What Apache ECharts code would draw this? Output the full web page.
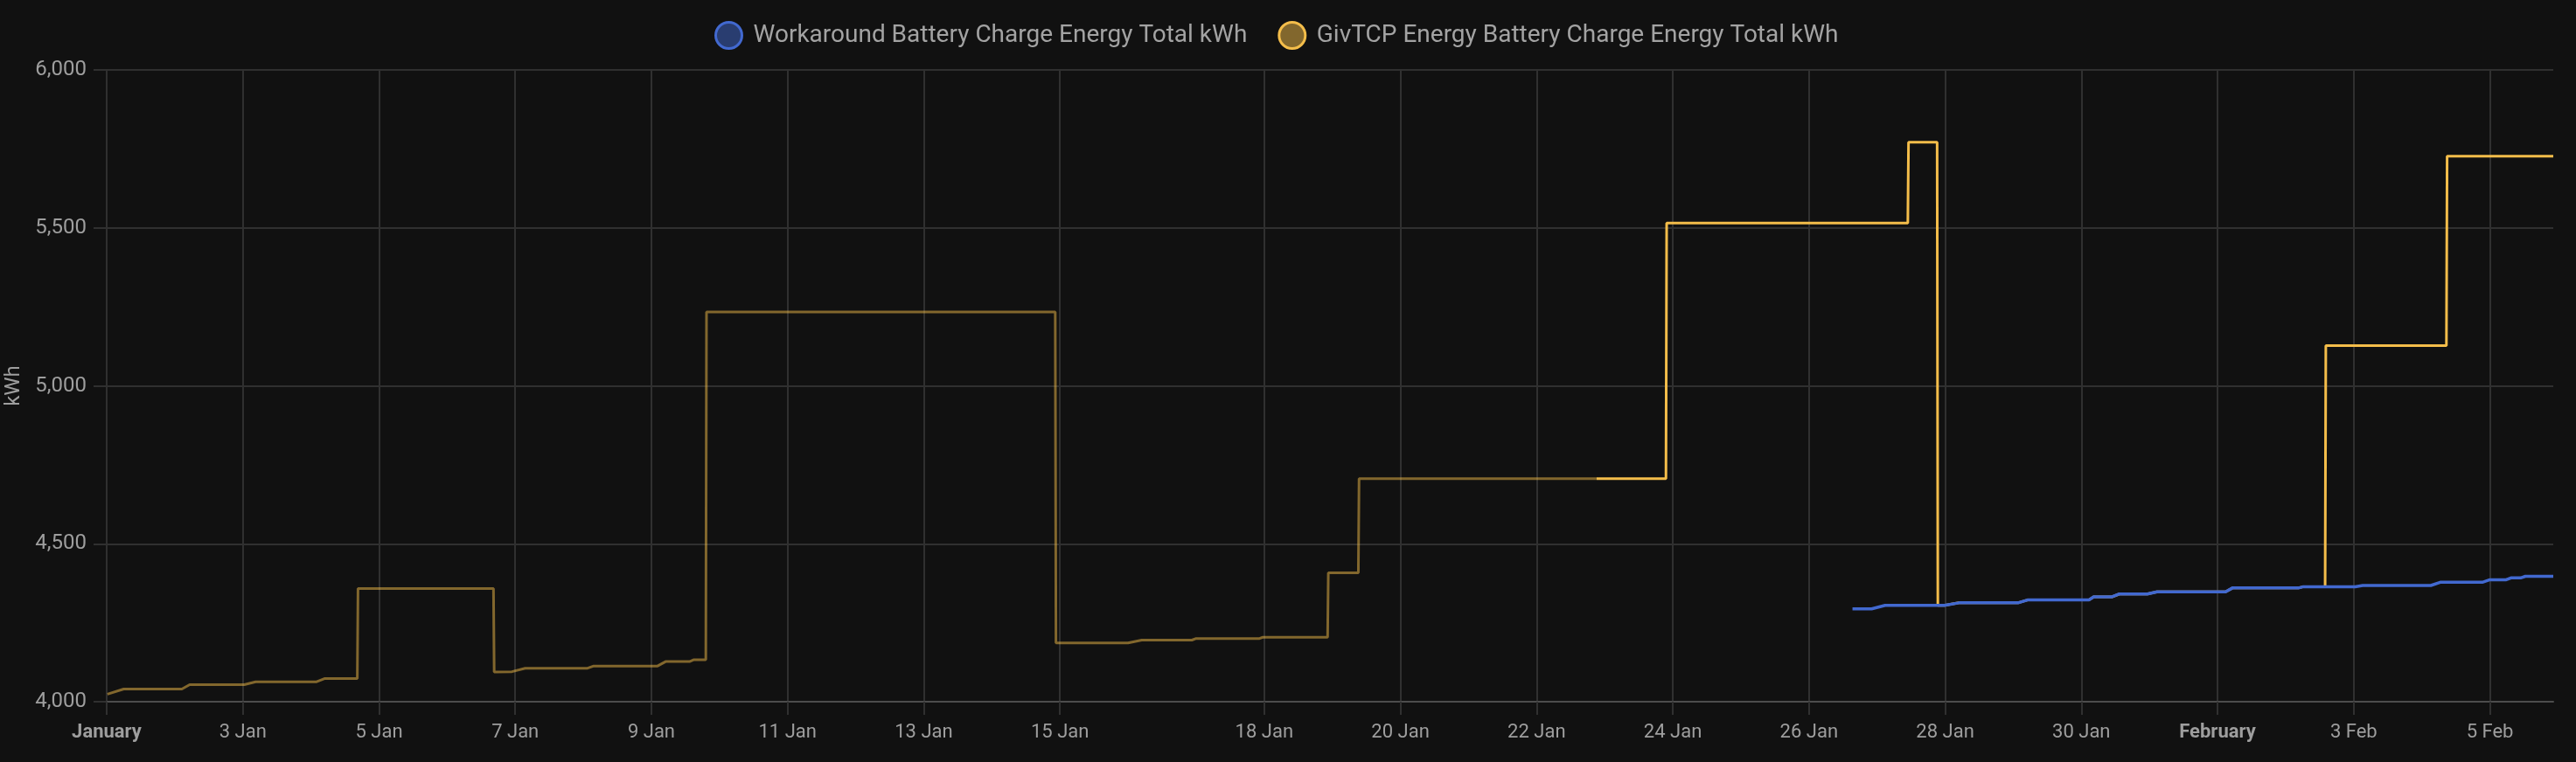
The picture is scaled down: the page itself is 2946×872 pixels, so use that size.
<!DOCTYPE html>
<html lang="en">
<head>
<meta charset="utf-8" />
<title>Battery Charge Energy Total</title>
<script src="https://cdn.jsdelivr.net/npm/echarts@6/dist/echarts.min.js"></script>
<style>
  html, body { margin: 0; padding: 0; background: #111111; }
  #chart { width: 2946px; height: 872px; }
</style>
</head>
<body>
<div id="chart"></div>
<script>
  var YEAR = 2025;
  var legendNames = ['Workaround Battery Charge Energy Total kWh', 'GivTCP Energy Battery Charge Energy Total kWh'];

  // x tick dates (MM-DD)
  var tickDates = ['01-01', '01-03', '01-05', '01-07', '01-09', '01-11', '01-13', '01-15', '01-18',
    '01-20', '01-22', '01-24', '01-26', '01-28', '01-30', '02-01', '02-03', '02-05'];
  var xStart = '01-01 00:00';
  var xEnd = '02-05 22:20';
  var yTicks = [4000, 4500, 5000, 5500, 6000];

  // Workaround series (history)
  var workaroundTimes = ['01-26 15:20', '01-26 22:05', '01-27 02:50', '01-27 23:45', '01-28 04:50', '01-29 01:40',
    '01-29 05:00', '01-30 02:40', '01-30 04:20', '01-30 10:50', '01-30 13:25', '01-30 23:15', '01-31 02:40',
    '02-01 02:50', '02-01 05:15', '02-02 04:30', '02-02 06:15', '02-03 00:30', '02-03 03:10', '02-04 03:10',
    '02-04 06:30', '02-04 21:20', '02-05 00:00', '02-05 05:45', '02-05 07:25', '02-05 10:50', '02-05 12:30',
    '02-05 22:20'];
  var workaroundValues = [4294, 4294, 4305, 4305, 4313, 4313,
    4322, 4322, 4332, 4332, 4341, 4341, 4348,
    4348, 4360, 4360, 4364, 4364, 4368, 4368,
    4378, 4378, 4386, 4386, 4392, 4392, 4397,
    4397];

  // GivTCP series, long-term statistics part (drawn faded)
  var givStatTimes = ['01-01 00:15', '01-01 06:00', '01-02 02:30', '01-02 05:15', '01-03 00:30', '01-03 04:30',
    '01-04 02:00', '01-04 04:45', '01-04 16:20', '01-04 16:35', '01-06 16:20', '01-06 16:35', '01-06 22:50',
    '01-07 03:30', '01-08 01:30', '01-08 03:40', '01-09 02:10', '01-09 05:00', '01-09 13:25', '01-09 15:00',
    '01-09 19:10', '01-09 19:25', '01-14 22:20', '01-14 22:35', '01-16 00:00', '01-16 04:50', '01-16 22:30',
    '01-17 00:00', '01-17 22:20', '01-17 23:30', '01-18 22:20', '01-18 22:35', '01-19 09:10', '01-19 09:25',
    '01-22 21:10'];
  var givStatValues = [4024, 4040, 4040, 4054, 4054, 4063,
    4063, 4073, 4073, 4358, 4358, 4094, 4095,
    4106, 4106, 4113, 4113, 4127, 4127, 4133,
    4133, 5234, 5234, 4186, 4186, 4195, 4195,
    4200, 4200, 4204, 4204, 4408, 4408, 4706,
    4706];

  // GivTCP series, recent history part
  var givTimes = ['01-22 21:10', '01-23 21:35', '01-23 21:50', '01-27 10:50', '01-27 11:05', '01-27 21:10',
    '01-27 21:25', '01-27 23:45', '01-28 04:50', '01-29 01:40', '01-29 05:00', '01-30 02:40', '01-30 04:20',
    '01-30 10:50', '01-30 13:25', '01-30 23:15', '01-31 02:40', '02-01 02:50', '02-01 05:15', '02-02 04:30',
    '02-02 06:15', '02-02 13:55', '02-02 14:10', '02-04 08:40', '02-04 08:55', '02-05 22:20'];
  var givValues = [4706, 4706, 5515, 5515, 5771, 5771,
    4305, 4305, 4313, 4313, 4322, 4322, 4332,
    4332, 4341, 4341, 4348, 4348, 4360, 4360,
    4364, 4364, 5127, 5127, 5727, 5727];

  var blue = '#4269d0';
  var gold = '#f4bd4a';
  var labelColor = '#9e9e9e';
  var gridColor = '#303030';
  var monthLong = ['January', 'February', 'March', 'April', 'May', 'June', 'July',
    'August', 'September', 'October', 'November', 'December'];
  var monthShort = ['Jan', 'Feb', 'Mar', 'Apr', 'May', 'Jun', 'Jul', 'Aug', 'Sep', 'Oct', 'Nov', 'Dec'];

  function t(s) {
    var p = s.split(' ');
    var md = p[0].split('-');
    var hm = (p[1] || '00:00').split(':');
    return new Date(YEAR, +md[0] - 1, +md[1], +hm[0], +hm[1]).getTime();
  }
  function pairs(times, values) {
    return times.map(function (s, i) { return [t(s), values[i]]; });
  }

  var chart = echarts.init(document.getElementById('chart'));
  var option = {
    backgroundColor: '#111111',
    animation: false,
    textStyle: { fontFamily: 'Roboto' },
    legend: {
      top: 19,
      left: 812,
      icon: 'circle',
      itemWidth: 30,
      itemHeight: 30,
      itemGap: 35,
      textStyle: { color: '#a3a3a3', fontSize: 28, fontFamily: 'Roboto', padding: [0, 0, 0, 8] },
      data: [
        { name: legendNames[0], itemStyle: { color: 'rgba(66,105,208,0.5)', borderColor: blue, borderWidth: 3 } },
        { name: legendNames[1], itemStyle: { color: 'rgba(244,189,74,0.5)', borderColor: gold, borderWidth: 3 } }
      ]
    },
    grid: { left: 122, right: 26, top: 80, bottom: 69, outerBoundsMode: 'none' },
    xAxis: {
      // timestamps on a value axis, so the irregular tick dates can be given directly
      type: 'value',
      min: t(xStart),
      max: t(xEnd),
      axisLine: { show: true, onZero: false, lineStyle: { color: '#4d4d4d', width: 2 } },
      axisTick: { show: true, length: 15, lineStyle: { color: gridColor, width: 2 }, customValues: tickDates.map(t) },
      splitLine: { show: true, lineStyle: { color: gridColor, width: 2 } },
      axisLabel: {
        customValues: tickDates.map(t),
        color: labelColor,
        fontSize: 22,
        margin: 24,
        hideOverlap: false,
        showMinLabel: true,
        showMaxLabel: true,
        formatter: function (v) {
          var d = new Date(v);
          if (d.getDate() === 1) return '{m|' + monthLong[d.getMonth()] + '}';
          return d.getDate() + ' ' + monthShort[d.getMonth()];
        },
        rich: { m: { fontWeight: 'bold', fontSize: 22, color: labelColor, fontFamily: 'Roboto' } }
      }
    },
    yAxis: {
      type: 'value',
      min: yTicks[0],
      max: yTicks[yTicks.length - 1],
      interval: 500,
      name: 'kWh',
      nameLocation: 'middle',
      nameRotate: 90,
      nameGap: 94,
      nameTextStyle: { color: labelColor, fontSize: 24 },
      axisLine: { show: false },
      axisTick: { show: true, length: 15, lineStyle: { color: gridColor, width: 2 } },
      splitLine: { show: true, lineStyle: { color: gridColor, width: 2 } },
      axisLabel: {
        color: labelColor,
        fontSize: 24,
        margin: 23,
        formatter: function (v) { return v.toLocaleString('en-US'); }
      }
    },
    series: [
      {
        name: legendNames[0],
        type: 'line',
        z: 4,
        showSymbol: false,
        color: blue,
        lineStyle: { color: blue, width: 3.5 },
        data: pairs(workaroundTimes, workaroundValues)
      },
      {
        name: legendNames[1],
        type: 'line',
        z: 3,
        showSymbol: false,
        color: gold,
        lineStyle: { color: gold, width: 3 },
        data: pairs(givTimes, givValues)
      },
      {
        name: legendNames[1],
        type: 'line',
        z: 2,
        showSymbol: false,
        color: gold,
        lineStyle: { color: gold, width: 3, opacity: 0.5 },
        data: pairs(givStatTimes, givStatValues)
      }
    ]
  };
  chart.setOption(option);
</script>
</body>
</html>
